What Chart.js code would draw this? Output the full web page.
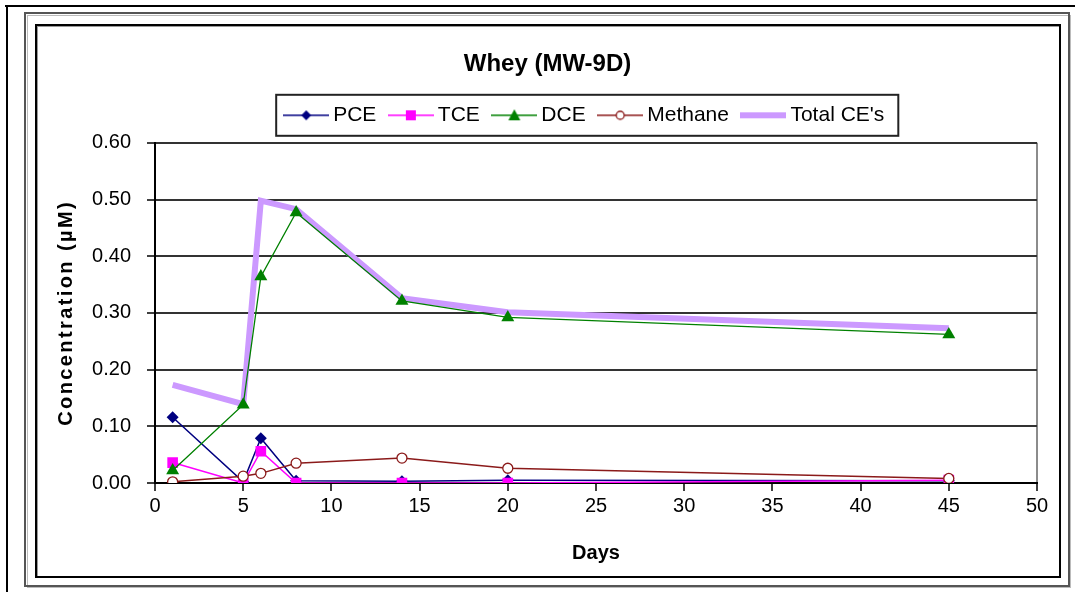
<!DOCTYPE html>
<html><head><meta charset="utf-8">
<script src="https://cdn.jsdelivr.net/npm/chart.js@4.4.0/dist/chart.umd.min.js"></script>
<style>html,body{margin:0;padding:0;background:#fff;}canvas{display:block;}</style>
</head><body>
<canvas id="c" width="1075" height="592"></canvas>
<script>
// ---- data ----
const days = [1, 5, 6, 8, 14, 20, 45];
const pce = [0.116, 0.002, 0.079, 0.004, 0.003, 0.005, 0.004];
const tce = [0.036, 0.000, 0.056, 0.000, 0.000, 0.000, 0.005];
const dce = [0.022, 0.138, 0.364, 0.477, 0.321, 0.292, 0.262];
const methane = [0.002, 0.012, 0.017, 0.035, 0.044, 0.026, 0.008];
const totalCE = [0.173, 0.139, 0.498, 0.483, 0.326, 0.301, 0.273];
const seriesNames = ['PCE', 'TCE', 'DCE', 'Methane', "Total CE's"];
const chartTitle = 'Whey (MW-9D)';
const xTitle = 'Days';
const yTitle = 'Concentration (\u00b5M)';

const FONT = "'Liberation Sans', Arial, Helvetica, sans-serif";
const pts = arr => days.map((d, i) => ({x: d, y: arr[i]}));

function legendImg(color, lw, marker) {
  const W = 46, H = 16, c = document.createElement('canvas');
  c.width = W; c.height = H;
  const g = c.getContext('2d'), cx = W / 2, cy = H / 2;
  g.strokeStyle = color; g.lineWidth = lw;
  g.beginPath(); g.moveTo(0, cy); g.lineTo(W, cy); g.stroke();
  g.fillStyle = color;
  if (marker === 'diamond') {
    g.beginPath(); g.moveTo(cx, cy - 5); g.lineTo(cx + 5, cy); g.lineTo(cx, cy + 5); g.lineTo(cx - 5, cy); g.closePath(); g.fill();
  } else if (marker === 'square') {
    g.fillRect(cx - 5, cy - 5, 10, 10);
  } else if (marker === 'triangle') {
    g.beginPath(); g.moveTo(cx, cy - 6); g.lineTo(cx + 6, cy + 5); g.lineTo(cx - 6, cy + 5); g.closePath(); g.fill();
  } else if (marker === 'circle') {
    g.fillStyle = '#fff'; g.lineWidth = 1.3;
    g.beginPath(); g.arc(cx, cy, 4, 0, Math.PI * 2); g.fill(); g.stroke();
  }
  return c;
}
const legendImgs = [
  legendImg('#000080', 1.5, 'diamond'),
  legendImg('#FF00FF', 1.5, 'square'),
  legendImg('#008000', 1.5, 'triangle'),
  legendImg('#8B1A1A', 1.5, 'circle'),
  legendImg('#CC99FF', 6, null)
];

const framePlugin = {
  id: 'frames',
  beforeDraw(chart) {
    const ctx = chart.ctx;
    ctx.save();
    ctx.fillStyle = '#fff'; ctx.fillRect(0, 0, chart.width, chart.height);
    ctx.fillStyle = '#000';
    ctx.fillRect(5, 5, 1070, 2);
    ctx.fillRect(6, 5, 2, 587);
    // middle frame
    ctx.strokeStyle = '#bbb'; ctx.lineWidth = 1;
    ctx.strokeRect(27.5, 15.5, 1043, 572);
    ctx.strokeStyle = '#555'; ctx.lineWidth = 2;
    ctx.strokeRect(25, 13, 1044, 573);
    // chart box
    ctx.strokeStyle = '#999'; ctx.lineWidth = 1;
    ctx.strokeRect(37.5, 26.5, 1023, 551);
    ctx.strokeStyle = '#000'; ctx.lineWidth = 2;
    ctx.strokeRect(36, 25, 1024, 552);
    ctx.restore();
    const s = chart.scales.y;
    if (s && !s._lsWrapped) {
      const orig = s.drawTitle.bind(s);
      s.drawTitle = function () { const c = this.ctx; c.save(); c.letterSpacing = '2.4px'; orig(); c.restore(); };
      s._lsWrapped = true;
    }
  },
  afterLayout(chart) {
    const lg = chart.legend, t = chart.titleBlock;
    if (lg) { lg.left += 46; lg.right += 46; lg.top -= 7; lg.bottom -= 7; }
    if (t) { t.left += 6.5; t.right += 6.5; t.top -= 7; t.bottom -= 7; }
  },
  afterDraw(chart) {
    const lg = chart.legend;
    if (!lg || !lg.legendHitBoxes.length) return;
    const hb = lg.legendHitBoxes, first = hb[0], last = hb[hb.length - 1];
    const cy = first.top + 10.5;
    const left = first.left + 33 / 2 - 23 - 7;
    const right = last.left + last.width + 14;
    const ctx = chart.ctx;
    ctx.save();
    ctx.strokeStyle = '#222'; ctx.lineWidth = 2;
    ctx.strokeRect(left, cy - 20.5, right - left, 41);
    ctx.restore();
  }
};

new Chart(document.getElementById('c'), {
  type: 'line',
  data: {
    datasets: [
      {label: seriesNames[0], data: pts(pce), borderColor: '#000080', backgroundColor: '#000080', borderWidth: 1.5,
        pointStyle: 'rectRot', pointRadius: 6, pointBorderWidth: 0, order: 4},
      {label: seriesNames[1], data: pts(tce), borderColor: '#FF00FF', backgroundColor: '#FF00FF', borderWidth: 1.5,
        pointStyle: 'rect', pointRadius: 7.5, pointBorderWidth: 0, order: 3},
      {label: seriesNames[2], data: pts(dce), borderColor: '#008000', backgroundColor: '#008000', borderWidth: 1.3,
        pointStyle: 'triangle', pointRadius: 7.5, pointBorderWidth: 0, order: 2},
      {label: seriesNames[3], data: pts(methane), borderColor: '#8B1A1A', backgroundColor: '#ffffff', borderWidth: 1.5,
        pointStyle: 'circle', pointRadius: 5, pointBorderWidth: 1.3, pointBorderColor: '#8B1A1A', order: 1},
      {label: seriesNames[4], data: pts(totalCE), borderColor: '#CC99FF', backgroundColor: '#CC99FF', borderWidth: 6,
        pointRadius: 0, order: 10}
    ]
  },
  options: {
    responsive: false,
    animation: false,
    devicePixelRatio: 1,
    layout: {padding: {left: 45, right: 38, top: 39, bottom: 20}},
    elements: {line: {tension: 0}},
    plugins: {
      tooltip: {enabled: false},
      title: {display: true, text: chartTitle, color: '#000',
        font: {family: FONT, size: 24, weight: 'bold', lineHeight: 1.2}, padding: {top: 18, bottom: 8}},
      legend: {
        display: true,
        labels: {
          color: '#000', font: {family: FONT, size: 21}, padding: 18,
          usePointStyle: true, pointStyleWidth: 33, boxHeight: 21,
          sort: (a, b) => a.datasetIndex - b.datasetIndex,
          generateLabels(chart) {
            const items = Chart.defaults.plugins.legend.labels.generateLabels(chart);
            items.forEach(it => { it.pointStyle = legendImgs[it.datasetIndex]; it.lineWidth = 0; it.strokeStyle = 'rgba(0,0,0,0)'; });
            return items;
          }
        }
      }
    },
    scales: {
      x: {
        type: 'linear', min: 0, max: 50,
        afterFit(s) { s.height = 89; },
        ticks: {stepSize: 5, color: '#000', font: {family: FONT, size: 20}, padding: 3, maxRotation: 0,
          callback: v => String(v)},
        grid: {
          drawOnChartArea: true, tickLength: 8, lineWidth: 2, tickWidth: 1.5, tickColor: '#000',
          color: c => (c.tick && c.tick.value === 50) ? '#8c8c8c' : 'rgba(0,0,0,0)'
        },
        border: {color: '#000', width: 2},
        title: {display: true, text: xTitle, color: '#000', font: {family: FONT, size: 20, weight: 'bold', lineHeight: 1.2},
          padding: {top: 0, bottom: 7}}
      },
      y: {
        min: 0, max: 0.6,
        afterFit(s) { s.width = 110; },
        ticks: {stepSize: 0.1, color: '#000', font: {family: FONT, size: 20}, padding: 16,
          callback: v => Number(v).toFixed(2)},
        grid: {color: '#333', lineWidth: 2, tickLength: 8, tickColor: '#000', tickWidth: 1.5},
        border: {color: '#000', width: 2},
        title: {display: true, text: yTitle, color: '#000', font: {family: FONT, size: 20, weight: 'bold', lineHeight: 1.2},
          padding: {top: 9, bottom: 0}}
      }
    }
  },
  plugins: [framePlugin]
});
</script>
</body></html>
